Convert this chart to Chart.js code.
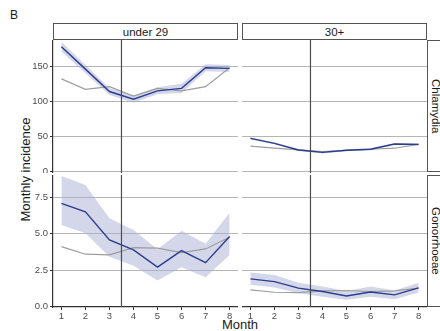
<!DOCTYPE html>
<html>
<head>
<meta charset="utf-8">
<script src="https://cdn.jsdelivr.net/npm/chart.js@4"></script>
<style>
  html, body { margin:0; padding:0; background:#fff; overflow:hidden; }
  body { width:440px; height:331px; position:relative; font-family:"Liberation Sans", Arial, sans-serif; }
  canvas { position:absolute; }
  .strip { position:absolute; box-sizing:border-box; border:1px solid #555; background:#fff;
           color:#1a1a1a; font-size:11.5px; display:flex; align-items:center; justify-content:center; }
  .vstrip { writing-mode:vertical-rl; }
  .lbl { position:absolute; color:#1a1a1a; }
</style>
</head>
<body>
<div class="lbl" style="left:10px;top:8px;font-size:12px;">B</div>
<div class="strip" style="left:53px;top:23px;width:185px;height:17px;">under 29</div>
<div class="strip" style="left:242px;top:23px;width:185px;height:17px;">30+</div>
<div class="strip vstrip" style="left:427px;top:40px;width:17px;height:132px;">Chlamydia</div>
<div class="strip vstrip" style="left:427px;top:175px;width:17px;height:132px;">Gonorrhoeae</div>
<div class="lbl" style="left:-50px;top:162px;width:150px;text-align:center;font-size:13px;transform:rotate(-90deg);">Monthly incidence</div>
<div class="lbl" style="left:190px;top:317px;width:100px;text-align:center;font-size:13px;">Month</div>

<canvas id="tl" width="238" height="133" style="left:0;top:40px;"></canvas>
<canvas id="tr" width="185" height="133" style="left:242px;top:40px;"></canvas>
<canvas id="bl" width="238" height="151" style="left:0;top:175px;"></canvas>
<canvas id="br" width="185" height="151" style="left:242px;top:175px;"></canvas>

<script>
// data
var months = [1, 2, 3, 4, 5, 6, 7, 8];
var breakMonth = 3.5;
var chlamTicks = [0, 50, 100, 150];
var gonoTicks = [0, 2.5, 5, 7.5];

// Chlamydia, under 29
var chlamU29Model = [178, 146, 114, 103, 115, 118.5, 148, 147];
var chlamU29Lo    = [171, 140, 109, 98, 110, 112, 143, 142];
var chlamU29Hi    = [185, 152, 119, 108, 120, 125, 153, 152];
var chlamU29Comp  = [132, 117, 121, 107.5, 118.5, 115, 121, 148];

// Chlamydia, 30+
var chlam30Model = [47, 40, 30.5, 27, 30, 31.5, 39, 38.5];
var chlam30Lo    = [45.5, 38.5, 29, 25.5, 28.5, 30, 37.5, 37];
var chlam30Hi    = [48.5, 41.5, 32, 28.5, 31.5, 33, 40.5, 40];
var chlam30Comp  = [36, 33, 30.5, 28, 30, 31.5, 33, 38.5];

// Gonorrhoeae, under 29
var gonoU29Model = [7.08, 6.49, 4.57, 3.88, 2.7, 3.84, 3.01, 4.8];
var gonoU29Lo    = [5.6, 5.03, 3.42, 2.79, 1.78, 2.7, 2.01, 3.54];
var gonoU29Hi    = [8.95, 8.34, 6.05, 5.25, 3.93, 5.2, 4.3, 6.44];
var gonoU29Comp  = [4.11, 3.59, 3.54, 4.04, 4.0, 3.7, 3.95, 4.75];

// Gonorrhoeae, 30+
var gono30Model = [1.9, 1.71, 1.26, 1.03, 0.73, 1.0, 0.8, 1.28];
var gono30Lo    = [1.49, 1.3, 0.92, 0.68, 0.46, 0.68, 0.5, 0.96];
var gono30Hi    = [2.33, 2.17, 1.64, 1.37, 1.07, 1.37, 1.1, 1.64];
var gono30Comp  = [1.14, 0.98, 0.96, 1.07, 1.1, 1.03, 1.07, 1.26];

function pts(arr) {
  return arr.map(function (v, i) { return { x: months[i], y: v }; });
}

var breakLine = {
  id: 'breakLine',
  afterDatasetsDraw: function (chart) {
    var x = chart.scales.x.getPixelForValue(breakMonth);
    var a = chart.chartArea;
    var ctx = chart.ctx;
    ctx.save();
    ctx.strokeStyle = '#4d4d4d';
    ctx.lineWidth = 1.2;
    ctx.beginPath();
    ctx.moveTo(x, a.top);
    ctx.lineTo(x, a.bottom);
    ctx.stroke();
    ctx.restore();
  }
};

function noPad(s) {
  s.paddingTop = 0; s.paddingBottom = 0; s.paddingLeft = 0; s.paddingRight = 0;
}

function panel(id, model, lo, hi, comp, opt) {
  var yTicks = opt.ticks;
  new Chart(document.getElementById(id), {
    type: 'line',
    data: {
      datasets: [
        { data: pts(hi), order: 4, borderWidth: 0, pointRadius: 0, fill: '+1', backgroundColor: 'rgba(170,176,212,0.5)' },
        { data: pts(lo), order: 3, borderWidth: 0, pointRadius: 0, fill: false },
        { data: pts(comp), order: 2, borderColor: '#9e9e9e', borderWidth: 1.2, pointRadius: 0, fill: false },
        { data: pts(model), order: 1, borderColor: '#2a3d8f', borderWidth: 1.4, pointRadius: 0, fill: false }
      ]
    },
    options: {
      responsive: false,
      animation: false,
      events: [],
      layout: { padding: 0, autoPadding: false },
      plugins: { legend: { display: false }, tooltip: { enabled: false } },
      scales: {
        x: {
          type: 'linear',
          min: 0.65, max: 8.35,
          display: opt.showX,
          afterBuildTicks: function (s) { s.ticks = months.map(function (v) { return { value: v }; }); },
          afterFit: function (s) { s.height = opt.showX ? 19 : 0; noPad(s); },
          grid: { drawOnChartArea: false, drawTicks: true, tickLength: 3, tickColor: '#333' },
          border: { display: true, color: '#333', width: 1.2 },
          ticks: { color: '#4d4d4d', font: { size: 9.5, family: 'Liberation Sans' }, padding: 1, maxRotation: 0 }
        },
        y: {
          type: 'linear',
          min: opt.min, max: opt.max,
          afterBuildTicks: function (s) { s.ticks = yTicks.map(function (v) { return { value: v }; }); },
          afterFit: function (s) { s.width = opt.showY ? 53 : 0; noPad(s); },
          grid: { color: '#b5b5b5', lineWidth: 1, drawTicks: opt.showY, tickLength: 3, tickColor: '#333' },
          border: { display: opt.showY, color: '#333', width: 1.2 },
          ticks: {
            display: opt.showY,
            color: '#4d4d4d', font: { size: 9.5, family: 'Liberation Sans' }, padding: 2,
            callback: function (v) { return opt.fmt(v); }
          }
        }
      }
    },
    plugins: [breakLine]
  });
}

var fmtInt = function (v) { return String(v); };
var fmtDec = function (v) { return v.toFixed(1); };

panel('tl', chlamU29Model, chlamU29Lo, chlamU29Hi, chlamU29Comp,
  { ticks: chlamTicks, min: -2.4, max: 187.6, showX: false, showY: true, fmt: fmtInt });
panel('tr', chlam30Model, chlam30Lo, chlam30Hi, chlam30Comp,
  { ticks: chlamTicks, min: -2.4, max: 187.6, showX: false, showY: false, fmt: fmtInt });
panel('bl', gonoU29Model, gonoU29Lo, gonoU29Hi, gonoU29Comp,
  { ticks: gonoTicks, min: -0.03, max: 9.02, showX: true, showY: true, fmt: fmtDec });
panel('br', gono30Model, gono30Lo, gono30Hi, gono30Comp,
  { ticks: gonoTicks, min: -0.03, max: 9.02, showX: true, showY: false, fmt: fmtDec });
</script>
</body>
</html>
